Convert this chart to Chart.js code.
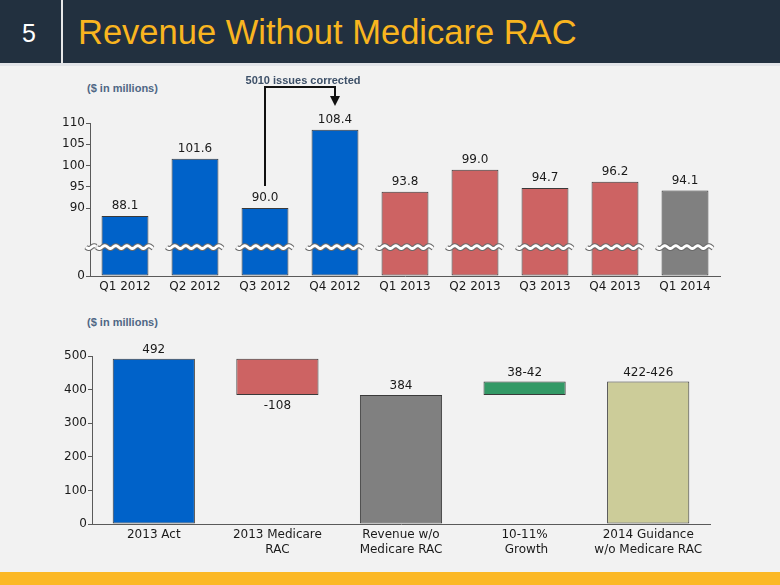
<!DOCTYPE html>
<html><head><meta charset="utf-8">
<script src="https://cdn.jsdelivr.net/npm/chart.js@4.4.1/dist/chart.umd.min.js"></script>
<style>
html,body{margin:0;padding:0;}
body{width:780px;height:585px;overflow:hidden;background:#f2f2f2;position:relative;font-family:"Liberation Sans",Arial,sans-serif;}
#hdr{position:absolute;left:0;top:0;width:780px;height:63px;background:#22303f;}
#hdrline{position:absolute;left:0;top:63px;width:780px;height:3px;background:#e2e4e8;}
#sep{position:absolute;left:61px;top:0;width:2px;height:63px;background:#e8e8e8;}
#num{position:absolute;left:22px;top:19px;color:#fff;font-size:25px;line-height:28px;}
#title{position:absolute;left:78px;top:12px;color:#f9b51f;font-size:34.5px;line-height:40px;white-space:nowrap;}
#foot{position:absolute;left:0;top:572px;width:780px;height:13px;background:#fbb826;}
.note{position:absolute;font:bold 11px "Liberation Sans",Arial,sans-serif;color:#4f6785;line-height:13px;white-space:nowrap;}
#c1wrap{position:absolute;left:0;top:70px;width:780px;height:230px;}
#c2wrap{position:absolute;left:0;top:330px;width:780px;height:240px;}
</style></head>
<body>
<div id="hdr"></div><div id="hdrline"></div><div id="sep"></div>
<div id="num">5</div>
<div id="title">Revenue Without Medicare RAC</div>
<div class="note" style="left:87px;top:82px;">($ in millions)</div>
<div class="note" style="left:87px;top:316px;">($ in millions)</div>
<div id="c1wrap"><canvas id="c1" width="780" height="230"></canvas></div>
<div id="c2wrap"><canvas id="c2" width="780" height="240"></canvas></div>
<div id="foot"></div>
<script>
// ---- Data: quarterly revenue ($ in millions) ----
const quarters = ['Q1 2012','Q2 2012','Q3 2012','Q4 2012','Q1 2013','Q2 2013','Q3 2013','Q4 2013','Q1 2014'];
const revenue  = [88.1, 101.6, 90.0, 108.4, 93.8, 99.0, 94.7, 96.2, 94.1];
const quarterColors = ['#0062c9','#0062c9','#0062c9','#0062c9','#cd6363','#cd6363','#cd6363','#cd6363','#808080'];
// broken axis: bottom of axis is labelled 0, upper section 90..110
const axisFloor = 74;
const breakValue = 80.8;
const topTickValues = [74, 90, 95, 100, 105, 110];
const topTickLabels = ['0','90','95','100','105','110'];
const annotationText = '5010 issues corrected';

// ---- Data: revenue bridge ($ in millions) ----
const bridgeCategories = [['2013 Act'], ['2013 Medicare','RAC'], ['Revenue w/o','Medicare RAC'], ['10-11%',' Growth'], ['2014 Guidance','w/o Medicare RAC']];
const bridgeStart = [0, 384, 0, 384, 0];
const bridgeEnd   = [492, 492, 384, 424, 424];
const bridgeLabels = ['492', '-108', '384', '38-42', '422-426'];
const bridgeColors = ['#0062c9', '#cd6363', '#808080', '#339966', '#cccc99'];

const FONT = {family: '"DejaVu Sans", Verdana, sans-serif', size: 12};
const TEXT = '#1a1a1a';
const AXIS = '#5a5a5a';

function wave(ctx, x0, x1, yc) {
  ctx.save();
  ctx.beginPath();
  for (let px = x0; px <= x1; px += 0.5) {
    const py = yc + 1.4 * Math.sin((px - x0) / 11 * 2 * Math.PI);
    if (px === x0) ctx.moveTo(px, py); else ctx.lineTo(px, py);
  }
  ctx.strokeStyle = '#6a6a6a'; ctx.lineWidth = 5; ctx.stroke();
  ctx.strokeStyle = '#ffffff'; ctx.lineWidth = 2.8; ctx.stroke();
  ctx.restore();
}

const topPlugin = {
  id: 'topExtras',
  afterDatasetsDraw(chart) {
    const {ctx, scales: {x, y}} = chart;
    const meta = chart.getDatasetMeta(0);
    const yb = y.getPixelForValue(breakValue);
    meta.data.forEach((bar, i) => {
      const half = bar.width / 2;
      wave(ctx, bar.x - half - 5, bar.x + half + 5, yb);
      ctx.save();
      ctx.font = `${FONT.size}px ${FONT.family}`;
      ctx.fillStyle = TEXT; ctx.textAlign = 'center'; ctx.textBaseline = 'middle';
      ctx.fillText(revenue[i].toFixed(1), bar.x, bar.y - 10);
      ctx.restore();
    });
    wave(ctx, x.left - 4, x.left + 6, yb);
    // annotation bracket Q3 2012 -> Q4 2012
    const xa = x.getPixelForValue(2), xb = x.getPixelForValue(3);
    const yTop = y.top - 36;
    const yStart = y.getPixelForValue(95.2);
    ctx.save();
    ctx.strokeStyle = '#111'; ctx.lineWidth = 2;
    ctx.beginPath();
    ctx.moveTo(xa, yStart); ctx.lineTo(xa, yTop); ctx.lineTo(xb, yTop); ctx.lineTo(xb, yTop + 10);
    ctx.stroke();
    ctx.fillStyle = '#111';
    ctx.beginPath();
    ctx.moveTo(xb - 5, yTop + 9); ctx.lineTo(xb + 5, yTop + 9); ctx.lineTo(xb, yTop + 19); ctx.closePath();
    ctx.fill();
    ctx.font = 'bold 11px "Liberation Sans", Arial, sans-serif';
    ctx.fillStyle = '#3d5068'; ctx.textAlign = 'center'; ctx.textBaseline = 'middle';
    ctx.fillText(annotationText, (xa + xb) / 2 + 3, yTop - 6);
    ctx.restore();
  }
};

new Chart(document.getElementById('c1'), {
  type: 'bar',
  data: {
    labels: quarters,
    datasets: [{
      data: revenue, base: axisFloor,
      backgroundColor: quarterColors, borderColor: '#3a3a3a', borderWidth: 1, borderSkipped: false,
      barPercentage: 0.67, categoryPercentage: 1
    }]
  },
  options: {
    responsive: false, animation: false, devicePixelRatio: 1,
    layout: {padding: {top: 53, right: 60, left: 0, bottom: 0}},
    plugins: {legend: {display: false}, tooltip: {enabled: false}},
    scales: {
      x: {
        grid: {display: false, drawTicks: false},
        border: {display: true, color: AXIS, width: 1},
        ticks: {color: TEXT, font: FONT, padding: 4, maxRotation: 0, autoSkip: false},
        afterFit(s) { s.height = 24; }
      },
      y: {
        min: axisFloor, max: 110,
        afterBuildTicks(s) { s.ticks = topTickValues.map(v => ({value: v})); },
        grid: {display: true, drawOnChartArea: false, drawTicks: true, tickLength: 4, color: AXIS},
        border: {display: true, color: AXIS, width: 1},
        ticks: {color: TEXT, font: FONT, padding: 1, callback: (v) => topTickLabels[topTickValues.indexOf(v)]},
        afterFit(s) { s.width = 90; }
      }
    }
  },
  plugins: [topPlugin]
});

const bridgePlugin = {
  id: 'bridgeLabels',
  afterDatasetsDraw(chart) {
    const {ctx} = chart;
    const meta = chart.getDatasetMeta(0);
    ctx.save();
    ctx.font = `${FONT.size}px ${FONT.family}`;
    ctx.fillStyle = TEXT; ctx.textAlign = 'center'; ctx.textBaseline = 'middle';
    meta.data.forEach((bar, i) => {
      const lbl = bridgeLabels[i];
      const top = Math.min(bar.y, bar.base), bottom = Math.max(bar.y, bar.base);
      if (lbl.startsWith('-')) ctx.fillText(lbl, bar.x, bottom + 11);
      else ctx.fillText(lbl, bar.x, top - 9);
    });
    ctx.restore();
  }
};

new Chart(document.getElementById('c2'), {
  type: 'bar',
  data: {
    labels: bridgeCategories,
    datasets: [{
      data: bridgeStart.map((s, i) => [s, bridgeEnd[i]]),
      backgroundColor: bridgeColors, borderColor: '#3a3a3a', borderWidth: 1, borderSkipped: false,
      barPercentage: 0.665, categoryPercentage: 1
    }]
  },
  options: {
    responsive: false, animation: false, devicePixelRatio: 1,
    layout: {padding: {top: 26, right: 70, left: 0, bottom: 0}},
    plugins: {legend: {display: false}, tooltip: {enabled: false}},
    scales: {
      x: {
        grid: {display: false, drawTicks: false},
        border: {display: true, color: AXIS, width: 1},
        ticks: {color: TEXT, font: FONT, padding: 4, maxRotation: 0, autoSkip: false},
        afterFit(s) { s.height = 46; }
      },
      y: {
        min: 0, max: 500,
        ticks: {stepSize: 100, color: TEXT, font: FONT, padding: 1},
        grid: {display: true, drawOnChartArea: false, drawTicks: true, tickLength: 4, color: AXIS},
        border: {display: true, color: AXIS, width: 1},
        afterFit(s) { s.width = 92; }
      }
    }
  },
  plugins: [bridgePlugin]
});
</script>
</body></html>
